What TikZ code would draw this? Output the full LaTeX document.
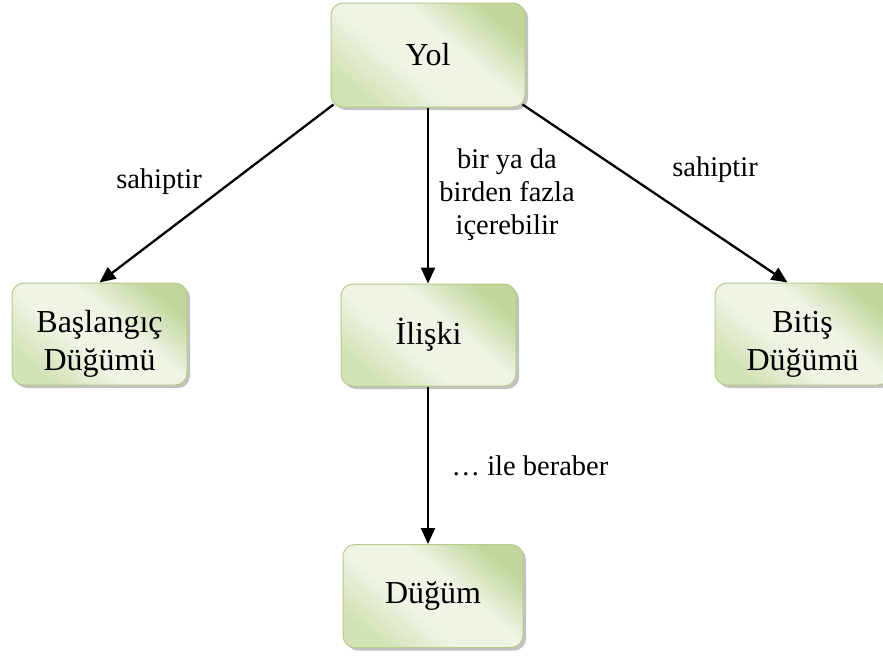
\documentclass[tikz,border=0pt]{standalone}
\usepackage{fontspec}
\setmainfont{Liberation Serif}
\usetikzlibrary{arrows.meta,shadows}
\definecolor{boxdark}{HTML}{C2D69C}
\definecolor{boxmid}{HTML}{D3E2B6}
\definecolor{boxlight}{HTML}{EFF4E5}
\definecolor{boxedge}{HTML}{B5CC8A}
% diagonal sheen: green corners, pale band from top left to bottom right
\pgfdeclareverticalshading{sheen}{100bp}{
  color(0bp)=(boxmid); color(25bp)=(boxmid); color(42bp)=(boxlight);
  color(58bp)=(boxlight); color(75bp)=(boxdark); color(100bp)=(boxdark)}
\tikzset{
  concept/.style={draw=boxedge, line width=1pt, rounded corners=12pt,
    minimum width=175pt, minimum height=102pt, inner sep=0pt,
    shading=sheen, shading angle=-40,
    drop shadow={shadow xshift=3pt, shadow yshift=-3pt, fill=black!40, opacity=0.6},
    align=center, font=\fontsize{32}{38}\selectfont},
  % two-line labels sit a little below the box centre
  twoline/.style={text height=80pt},
  rel/.style={line width=2.3pt, -{Triangle[length=16pt,width=14pt]}},
  lbl/.style={font=\fontsize{28.5}{33}\selectfont, align=center, inner sep=0pt}
}
\begin{document}
\begin{tikzpicture}[x=1pt,y=-1pt]
  \useasboundingbox (0,0) rectangle (883,656);
  % concept boxes
  \node[concept, minimum width=194pt, minimum height=104pt] (yol) at (428,55) {Yol};
  \node[concept, twoline] (start) at (99.5,334) {Başlangıç\\Düğümü};
  \node[concept] (iliski) at (428.5,335) {İlişki};
  \node[concept, twoline] (end) at (802.5,334) {Bitiş\\Düğümü};
  \node[concept, minimum width=180pt, minimum height=103pt] (dugum) at (433,596) {Düğüm};
  % relations
  \draw[rel] ([xshift=3pt,yshift=3pt]yol.south west) -- (start.north);
  \draw[rel] (yol.south) -- (yol.south |- iliski.north);
  \draw[rel] ([xshift=-3pt,yshift=3pt]yol.south east) -- ([xshift=-15pt]end.north);
  \draw[rel] (iliski.south -| yol.south) -- (yol.south |- dugum.north);
  % relation labels
  \node[lbl] (l1) at (159,182) {sahiptir};
  \node[lbl] (l2) at (507,195) {bir ya da\\birden fazla\\içerebilir};
  \node[lbl] (l3) at (715,170) {sahiptir};
  \node[lbl] (l4) at (530,466) {… ile beraber};
\end{tikzpicture}
\end{document}
